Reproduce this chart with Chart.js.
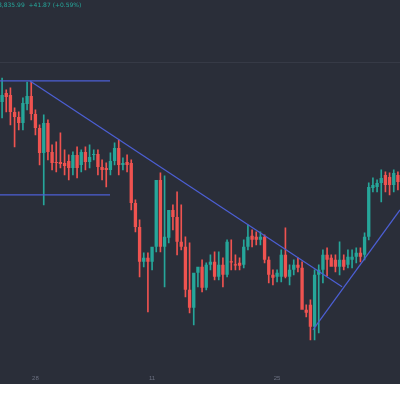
<!DOCTYPE html>
<html>
<head>
<meta charset="utf-8">
<script src="https://cdn.jsdelivr.net/npm/chart.js@4"></script>
<style>
  html, body { margin: 0; padding: 0; background: #ffffff; }
  #wrap { position: relative; width: 400px; height: 384px; background: #2a2e39; overflow: hidden; }
  #hdr { position: absolute; left: -2px; top: 1px; font: 6px "DejaVu Sans", sans-serif; color: #26a69a; }
  #sep { position: absolute; left: 0; top: 62px; width: 400px; height: 1px; background: #363a46; }
  canvas { position: absolute; left: 0; top: 0; }
</style>
</head>
<body>
<div id="wrap">
  <canvas id="c" width="400" height="384"></canvas>
  <div id="sep"></div>
  <div id="hdr">8,835.99 &nbsp;+41.87 (+0.59%)</div>
</div>
<script>
// Bougies (échelle de prix inversée : valeur = hauteur à l'écran)
const opens  = [102,93,95,112,117,123,104,96,114,128,153,123,152,162,162,163,161,168,155,165,152,162,155,154,167,168,170,161,148,165,
                162,163,203,227,262,258,262,247,180,247,238,210,217,242,247,290,308,273,267,288,265,262,277,265,275,262,265,263,265,247,
                236,237,240,237,260,275,277,277,255,277,270,265,268,310,305,327,275,270,255,258,260,267,260,265,260,257,253,255,237,188,
                187,183,175,177,185,175];
const closes = [95,97,112,117,123,103,96,114,128,153,123,152,163,163,164,166,168,155,168,152,162,157,154,167,170,170,161,148,165,163,
                165,203,227,262,258,262,247,180,247,237,210,217,242,247,290,308,273,267,288,265,262,277,265,275,242,262,265,266,247,237,
                240,240,237,260,275,278,273,255,277,270,265,268,310,313,327,275,270,255,260,267,267,260,267,257,257,253,257,237,187,185,
                183,178,185,185,173,182];
const highs  = [78,90,88,108,112,98,82,82,110,125,115,120,145,142,133,150,155,152,147,150,147,145,150,150,160,163,153,143,140,158,
                155,160,200,220,253,253,250,243,173,176,233,205,192,205,237,243,283,272,260,263,255,252,252,258,240,240,255,258,240,225,
                230,232,232,235,257,270,270,250,228,265,260,258,262,305,300,270,265,250,248,255,255,242,255,250,250,248,248,233,183,178,
                180,170,172,173,170,172];
const lows   = [118,112,125,147,130,130,110,120,135,165,205,160,170,172,168,175,180,175,178,172,170,168,160,175,180,187,175,165,175,170,
                172,210,232,277,267,312,270,252,252,287,243,230,255,250,297,313,325,287,292,290,270,280,280,287,277,270,270,270,268,250,
                247,245,245,263,283,285,282,282,278,285,275,272,275,317,340,340,333,283,276,263,272,275,270,268,268,263,262,260,240,192,
                192,202,192,195,192,190];
const tickLabels = {8: '28', 36: '11', 66: '25'};

// Lignes de tendance (en unités de bougie)
const topLine = [[-0.5, 81], [25.9, 81]];
const lowLine = [[-0.5, 195], [25.9, 195]];
const downTrend = [[6.7, 81], [81.6, 287]];
const upTrend = [[74.6, 330], [95.5, 210]];

const GREEN = '#26a69a';
const RED = '#ef5350';
const labels = opens.map((_, i) => String(i));
const colors = opens.map((o, i) => closes[i] < o ? GREEN : RED);
const bodies = opens.map((o, i) => o === closes[i] ? [o - 0.6, o + 0.6] : [o, closes[i]]);
const wicks = lows.map((l, i) => [l, highs[i]]);

function trend(pts) {
  return {
    type: 'line', xAxisID: 'x2',
    data: pts.map(p => ({x: p[0], y: p[1]})),
    borderColor: '#4c5fd5', borderWidth: 1.2, pointRadius: 0, fill: false
  };
}

new Chart(document.getElementById('c'), {
  type: 'bar',
  data: {
    labels: labels,
    datasets: [
      { data: wicks, backgroundColor: colors, barThickness: 1, grouped: false, order: 3 },
      { data: bodies, backgroundColor: colors, barPercentage: 0.8, categoryPercentage: 1, grouped: false, order: 2 },
      trend(topLine), trend(lowLine), trend(downTrend), trend(upTrend)
    ]
  },
  options: {
    responsive: false,
    animation: false,
    layout: { padding: 0 },
    plugins: { legend: { display: false }, tooltip: { enabled: false } },
    scales: {
      x: {
        grid: { display: false }, border: { display: false },
        ticks: {
          autoSkip: false, maxRotation: 0, color: '#6b7080', font: { size: 6 }, padding: 2,
          callback: (v, i) => tickLabels[i] || ''
        }
      },
      x2: { type: 'linear', display: false, offset: false, min: -0.5, max: 95.5 },
      y: { display: false, reverse: true, min: 0, max: 365 }
    }
  }
});
</script>
</body>
</html>
